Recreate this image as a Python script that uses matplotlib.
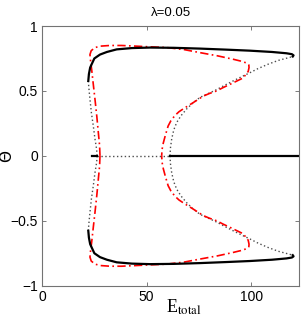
import matplotlib
matplotlib.use("Agg")
import matplotlib.pyplot as plt
import numpy as np

plt.rcParams["mathtext.fontset"] = "stix"

# stable branch (solid black), upper half
solid_E = [22.1, 22.4, 23.0, 23.7, 25.0, 27.7, 31.0, 35.7, 43.0, 51.6, 63.0, 75.5,
           88.0, 99.4, 110.0, 116.9, 119.5, 120.3, 119.9]
solid_th = [0.577, 0.63, 0.68, 0.705, 0.75, 0.78, 0.80, 0.82, 0.83, 0.834, 0.832, 0.826,
            0.818, 0.81, 0.80, 0.79, 0.783, 0.774, 0.765]

# unstable branches (dotted), upper half
dot_left_E = [22.1, 22.5, 22.9, 23.6, 24.5, 25.3, 26.1, 26.3]
dot_left_th = [0.577, 0.5, 0.436, 0.33, 0.23, 0.13, 0.05, 0.0]
dot_right_E = [61.2, 61.4, 62.0, 63.0, 64.4, 66.5, 69.1, 72.0, 75.5, 79.5, 83.5, 87.5,
               91.4, 95.5, 99.4, 103.3, 108.0, 113.0, 119.3, 119.9]
dot_right_th = [0.0, 0.06, 0.13, 0.2, 0.257, 0.31, 0.36, 0.405, 0.45, 0.48, 0.51, 0.545,
                0.577, 0.61, 0.64, 0.672, 0.705, 0.735, 0.762, 0.765]

# trivial branch Theta = 0
zero_solid = [(23.7, 26.1), (61.2, 123.0)]
zero_dotted = (26.1, 61.2)

# lambda = 0.05 comparison curve (red dash-dot), upper half
red_E = [27.7, 27.5, 26.9, 26.2, 25.3, 24.5, 23.7, 23.2, 22.9, 23.5, 25.3, 28.0, 32.5,
         38.0, 43.6, 51.0, 59.6, 68.0, 75.5, 84.0, 91.4, 95.5, 97.8, 98.9, 99.0, 98.6,
         96.2, 93.0, 89.8, 86.5, 83.5, 80.0, 77.1, 72.3, 68.3, 65.5, 63.5, 61.6, 60.3,
         59.0, 58.0, 57.4, 57.2]
red_th = [0.0, 0.08, 0.18, 0.3, 0.436, 0.55, 0.667, 0.73, 0.78, 0.81, 0.834, 0.845, 0.85,
          0.85, 0.846, 0.84, 0.834, 0.818, 0.795, 0.77, 0.744, 0.728, 0.715, 0.70, 0.68,
          0.65, 0.60, 0.575, 0.55, 0.525, 0.50, 0.48, 0.46, 0.41, 0.37, 0.34, 0.31, 0.27,
          0.23, 0.16, 0.10, 0.05, 0.0]

fig = plt.figure(figsize=(3.05, 3.21), dpi=100)
ax = fig.add_axes([0.138, 0.110, 0.843, 0.809])

dotted = dict(color="0.3", linestyle=(0, (1, 1.8)), lw=1.0)
dashdot = dict(color="red", linestyle=(0, (5, 2, 1, 2)), lw=1.2)

for s in (1, -1):
    ax.plot(dot_left_E, s * np.array(dot_left_th), **dotted)
    ax.plot(dot_right_E, s * np.array(dot_right_th), **dotted)
    ax.plot(red_E, s * np.array(red_th), **dashdot)
    ax.plot(solid_E, s * np.array(solid_th), color="black", lw=1.6)

ax.plot(zero_dotted, [0, 0], **dotted)
for seg in zero_solid:
    ax.plot(seg, [0, 0], color="black", lw=1.6)

ax.set_xlim(0, 123)
ax.set_ylim(-1, 1)
ax.set_xticks([0, 50, 100])
ax.set_yticks([-1, -0.5, 0, 0.5, 1])
ax.set_yticklabels(["\u22121", "\u22120.5", "0", "0.5", "1"])
ax.tick_params(direction="in", top=True, right=True, length=3, width=0.6,
               color="0.4", labelsize=10, pad=3)
for lab in ax.get_xticklabels() + ax.get_yticklabels():
    lab.set_family("Liberation Sans")
for sp in ax.spines.values():
    sp.set_color("0.45")
    sp.set_linewidth(0.8)

ax.set_title("\u03bb=0.05", fontsize=9.5, family="Liberation Sans", pad=7)
ax.set_ylabel("\u0398", fontsize=11, family="DejaVu Sans")
ax.yaxis.set_label_coords(-0.11, 0.5)
ax.set_xlabel("E$_{\\mathrm{total}}$", fontsize=13, family="Liberation Serif")
ax.xaxis.set_label_coords(0.55, -0.045)

fig.savefig("out.png", dpi=100)
